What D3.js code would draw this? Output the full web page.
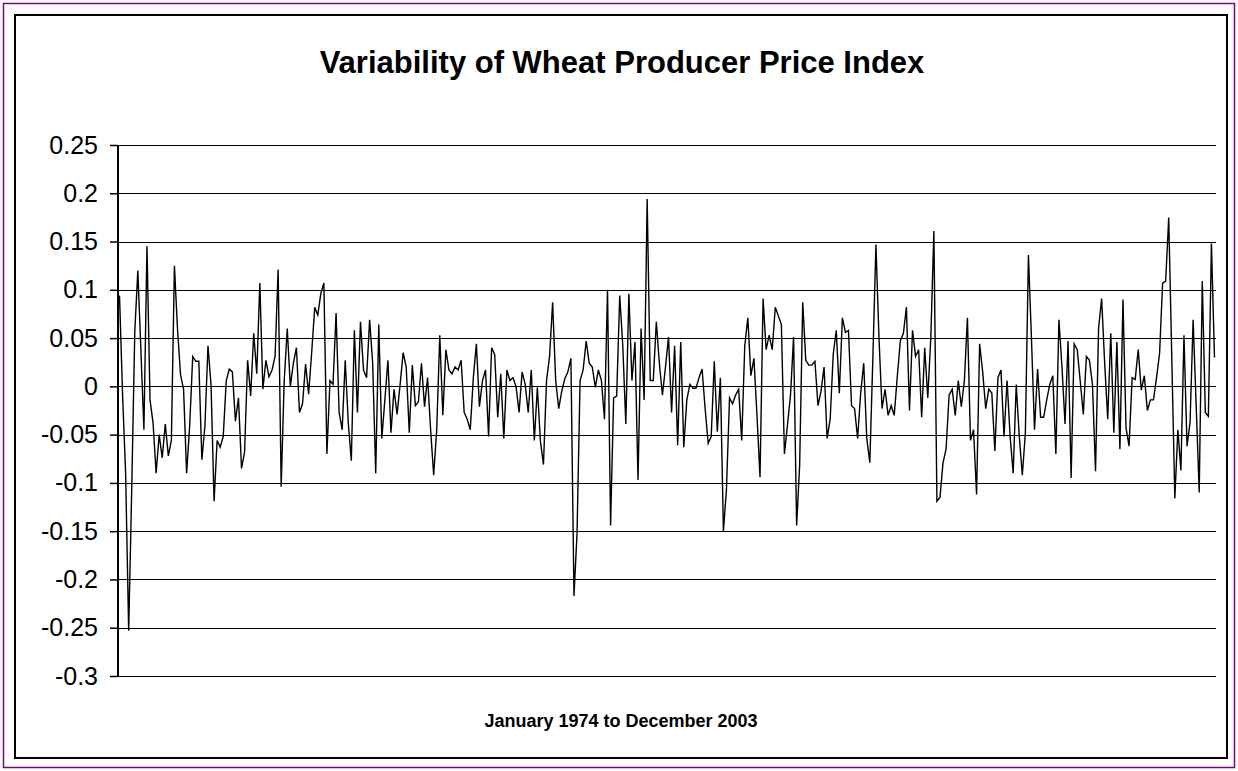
<!DOCTYPE html>
<html>
<head>
<meta charset="utf-8">
<script src="https://cdn.jsdelivr.net/npm/d3@7"></script>
<style>
  html, body { margin: 0; padding: 0; background: #fff; }
  svg { display: block; font-family: "Liberation Sans", Arial, sans-serif; }
</style>
</head>
<body>
<div id="chart"></div>
<script>
// monthly values, one row per year
const values1974to1983 = [
  0.094, -0.009, -0.09, -0.253, -0.106, 0.056, 0.12, 0.038, -0.045, 0.145, -0.014, -0.038,
  -0.09, -0.05, -0.074, -0.039, -0.072, -0.056, 0.125, 0.06, 0.012, -0.003, -0.09, -0.041,
  0.031, 0.026, 0.026, -0.076, -0.041, 0.042, 0.002, -0.119, -0.056, -0.063, -0.052, 0.006,
  0.018, 0.015, -0.036, -0.012, -0.085, -0.068, 0.027, -0.01, 0.055, 0.013, 0.107, -0.003,
  0.027, 0.01, 0.017, 0.031, 0.121, -0.104, 0.006, 0.06, 0.0, 0.024, 0.04, -0.027,
  -0.018, 0.023, -0.008, 0.035, 0.082, 0.074, 0.096, 0.107, -0.07, 0.006, 0.002, 0.076,
  -0.027, -0.045, 0.027, -0.038, -0.077, 0.058, -0.027, 0.067, 0.017, 0.009, 0.069, 0.024,
  -0.09, 0.064, -0.054, -0.014, 0.027, -0.048, -0.003, -0.029, 0.002, 0.035, 0.02, -0.048,
  0.022, -0.02, -0.016, 0.024, -0.021, 0.009, -0.045, -0.092, -0.045, 0.053, -0.03, 0.038,
  0.017, 0.013, 0.02, 0.017, 0.027, -0.027, -0.034, -0.045, 0.009, 0.044, -0.021, 0.006
];
const values1984to1993 = [
  0.017, -0.052, 0.04, 0.033, -0.032, 0.013, -0.054, 0.017, 0.006, 0.009, 0.0, -0.027,
  0.015, 0.002, -0.027, 0.017, -0.056, -0.001, -0.057, -0.081, 0.006, 0.031, 0.087, 0.006,
  -0.023, -0.005, 0.008, 0.015, 0.029, -0.217, -0.153, 0.006, 0.017, 0.047, 0.024, 0.02,
  -0.001, 0.017, 0.006, -0.034, 0.1, -0.144, -0.012, -0.01, 0.094, 0.042, -0.039, 0.096,
  0.006, 0.046, -0.097, 0.06, -0.014, 0.194, 0.006, 0.006, 0.067, 0.024, -0.009, 0.02,
  0.051, -0.027, 0.042, -0.061, 0.046, -0.063, -0.014, 0.002, -0.002, -0.002, 0.009, 0.018,
  -0.023, -0.059, -0.052, 0.026, -0.047, 0.009, -0.15, -0.106, -0.012, -0.018, -0.009, -0.003,
  -0.056, 0.042, 0.071, 0.011, 0.029, -0.03, -0.094, 0.091, 0.038, 0.053, 0.038, 0.082,
  0.073, 0.064, -0.07, -0.04, -0.009, 0.051, -0.144, -0.081, 0.087, 0.027, 0.022, 0.022,
  0.026, -0.02, -0.005, 0.02, -0.054, -0.034, 0.033, 0.058, -0.007, 0.071, 0.056, 0.058
];
const values1994to2003 = [
  -0.02, -0.023, -0.054, -0.007, 0.024, -0.054, -0.079, 0.03, 0.147, 0.05, -0.023, -0.003,
  -0.03, -0.02, -0.03, 0.01, 0.047, 0.055, 0.082, -0.025, 0.058, 0.031, 0.038, -0.032,
  0.04, -0.012, 0.051, 0.161, -0.119, -0.115, -0.079, -0.065, -0.009, -0.003, -0.03, 0.006,
  -0.021, 0.006, 0.071, -0.056, -0.045, -0.112, 0.044, 0.015, -0.023, -0.003, -0.007, -0.067,
  0.009, 0.017, -0.052, 0.006, -0.052, -0.09, 0.002, -0.052, -0.092, -0.048, 0.136, 0.049,
  -0.045, 0.018, -0.032, -0.032, -0.014, 0.002, 0.011, -0.07, 0.069, 0.02, -0.039, 0.047,
  -0.095, 0.044, 0.038, 0.005, -0.029, 0.031, 0.027, 0.002, -0.088, 0.06, 0.091, 0.024,
  -0.034, 0.055, -0.048, 0.046, -0.065, 0.09, -0.043, -0.062, 0.009, 0.007, 0.038, -0.004,
  0.011, -0.025, -0.014, -0.014, 0.009, 0.034, 0.107, 0.109, 0.175, 0.03, -0.116, -0.045,
  -0.087, 0.053, -0.062, -0.037, 0.069, -0.02, -0.11, 0.109, -0.027, -0.031, 0.148, 0.03
];
const yTicks = [0.25, 0.2, 0.15, 0.1, 0.05, 0, -0.05, -0.1, -0.15, -0.2, -0.25, -0.3];
const chartTitle = "Variability of Wheat Producer Price Index";
const xTitle = "January 1974 to December 2003";

const values = values1974to1983.concat(values1984to1993, values1994to2003);

const width = 1238;
const height = 771;
const plot = { left: 118, right: 1216, top: 145, bottom: 676 };

const svg = d3.select("#chart")
  .append("svg")
  .attr("width", width)
  .attr("height", height);

// outer purple frame and chart area border
svg.append("rect")
  .attr("x", 3.5).attr("y", 3.5)
  .attr("width", width - 7).attr("height", height - 7)
  .attr("fill", "#fff")
  .attr("stroke", "#800080")
  .attr("stroke-width", 1.5);

svg.append("rect")
  .attr("x", 15).attr("y", 15)
  .attr("width", 1212).attr("height", 743)
  .attr("fill", "#fff")
  .attr("stroke", "#000")
  .attr("stroke-width", 2);

const x = d3.scaleBand()
  .domain(d3.range(values.length))
  .range([plot.left, plot.right])
  .padding(0);

const y = d3.scaleLinear()
  .domain([-0.3, 0.25])
  .range([plot.bottom, plot.top]);

// gridlines
svg.append("g")
  .selectAll("line")
  .data(yTicks)
  .enter().append("line")
  .attr("x1", plot.left)
  .attr("x2", plot.right)
  .attr("y1", d => Math.round(y(d)) + 0.5)
  .attr("y2", d => Math.round(y(d)) + 0.5)
  .attr("stroke", "#000")
  .attr("stroke-width", 1.2);

// value axis
const yAxis = d3.axisLeft(y)
  .tickValues(yTicks)
  .tickFormat(d => String(d))
  .tickSize(8)
  .tickPadding(12);

const axisG = svg.append("g")
  .attr("transform", `translate(${plot.left},0)`)
  .call(yAxis);

axisG.select(".domain")
  .attr("stroke", "#000")
  .attr("stroke-width", 2)
  .attr("d", `M0,${plot.top}V${plot.bottom}`);
axisG.selectAll(".tick line")
  .attr("stroke", "#000")
  .attr("stroke-width", 1.5);
axisG.selectAll(".tick text")
  .attr("fill", "#000")
  .style("font-size", "25px")
  .style("font-family", "'Liberation Sans', Arial, sans-serif");

// series line
const line = d3.line()
  .x((d, i) => x(i) + x.bandwidth() / 2)
  .y(d => y(d));

svg.append("path")
  .datum(values)
  .attr("d", line)
  .attr("fill", "none")
  .attr("stroke", "#000")
  .attr("stroke-width", 1.4)
  .attr("stroke-linejoin", "miter");

// titles
svg.append("text")
  .attr("x", 622)
  .attr("y", 73)
  .attr("text-anchor", "middle")
  .style("font-size", "31px")
  .style("font-weight", "bold")
  .text(chartTitle);

svg.append("text")
  .attr("x", 621)
  .attr("y", 727)
  .attr("text-anchor", "middle")
  .style("font-size", "18px")
  .style("font-weight", "bold")
  .text(xTitle);
</script>
</body>
</html>
